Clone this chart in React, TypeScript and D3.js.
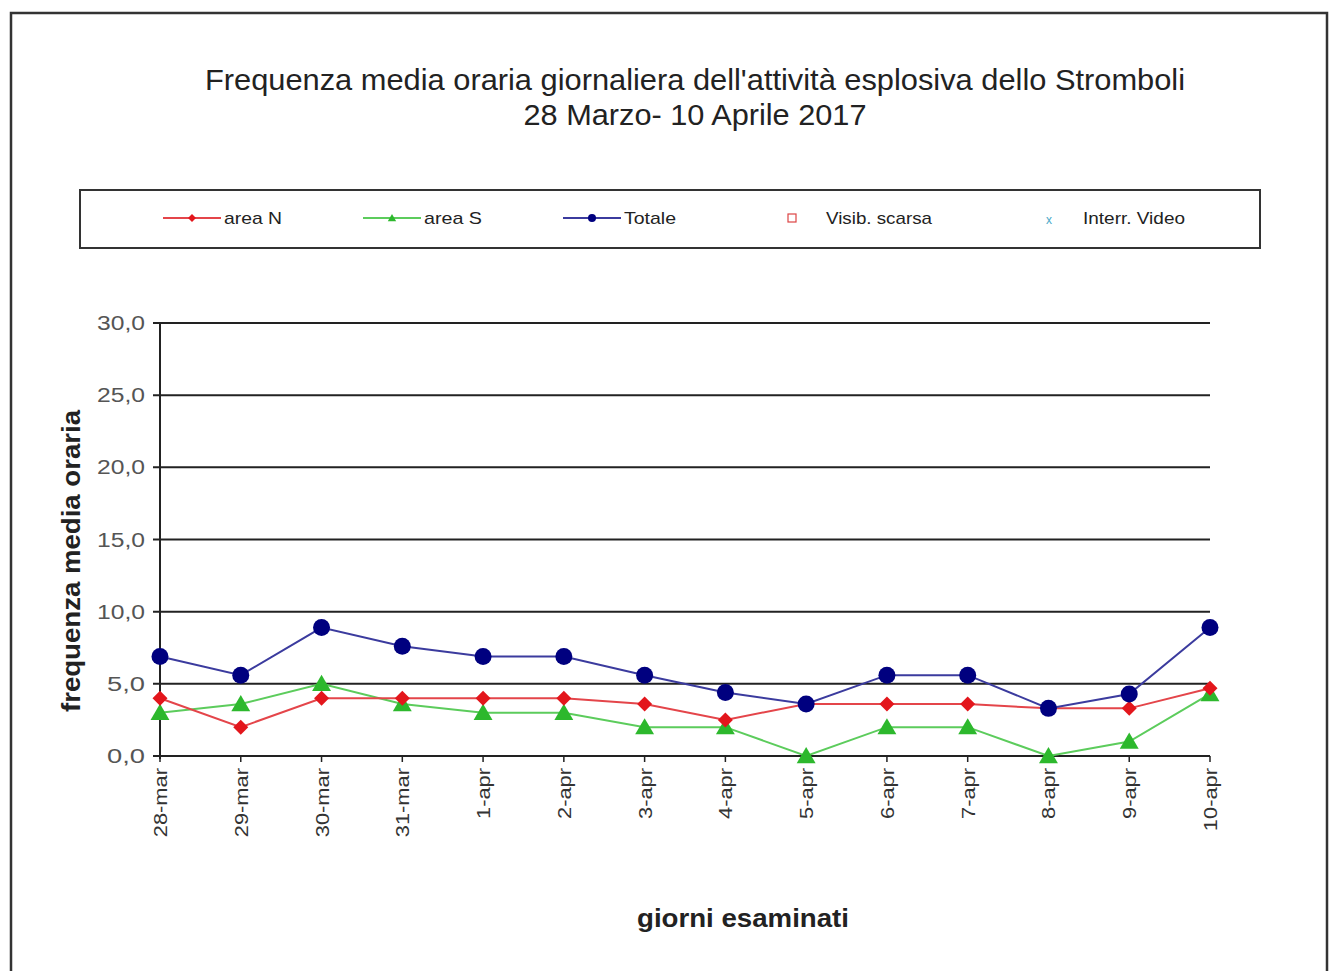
import React from "react";
import * as d3 from "d3";

const days = ["28-mar","29-mar","30-mar","31-mar","1-apr","2-apr","3-apr","4-apr","5-apr","6-apr","7-apr","8-apr","9-apr","10-apr"];
const areaN = [4.0,2.0,4.0,4.0,4.0,4.0,3.6,2.5,3.6,3.6,3.6,3.3,3.3,4.7];
const areaS = [3.0,3.6,5.0,3.6,3.0,3.0,2.0,2.0,0.0,2.0,2.0,0.0,1.0,4.3];
const totale = [6.9,5.6,8.9,7.6,6.9,6.9,5.6,4.4,3.6,5.6,5.6,3.3,4.3,8.9];
const yTicks = [0,5,10,15,20,25,30];
const legendItems = ["area N","area S","Totale","Visib. scarsa","Interr. Video"];

const W = 1330, H = 971;
const x = d3.scalePoint<string>().domain(days).range([160, 1210]);
const y = d3.scaleLinear().domain([0, 30]).range([756, 323]);
const fmt = (v: number) => v.toFixed(1).replace(".", ",");

const RED = "#e3161c", GREEN = "#2db82d", BLUE = "#00007f";
const LRED = "#e4454a", LGREEN = "#5ccc5c", LBLUE = "#3b3b9e";

function Diamond({ cx, cy, r, fill }: { cx: number; cy: number; r: number; fill: string }) {
  return <path d={`M${cx},${cy - r}L${cx + r},${cy}L${cx},${cy + r}L${cx - r},${cy}Z`} fill={fill} />;
}
function Tri({ cx, cy, r, fill }: { cx: number; cy: number; r: number; fill: string }) {
  return <path d={`M${cx},${cy - r}L${cx + r * 1.05},${cy + r * 0.8}L${cx - r * 1.05},${cy + r * 0.8}Z`} fill={fill} />;
}

export default function App() {
  const line = d3.line<number>().x((_, i) => x(days[i])!).y((d) => y(d));
  const font = "Arial, 'Liberation Sans', sans-serif";
  const legendX = [163, 363, 563];
  return (
    <svg width={W} height={H} style={{ position: "absolute", left: 0, top: 0 }} fontFamily={font}>
      <rect x={0} y={0} width={W} height={H} fill="#fff" />
      <rect x={11} y={13} width={1316} height={1000} fill="none" stroke="#333" strokeWidth={2.5} />
      <text x={695} y={90} textAnchor="middle" fontSize={29} fill="#222" textLength={980} lengthAdjust="spacingAndGlyphs">Frequenza media oraria giornaliera dell'attività esplosiva dello Stromboli</text>
      <text x={695} y={125} textAnchor="middle" fontSize={29} fill="#222" textLength={343} lengthAdjust="spacingAndGlyphs">28 Marzo- 10 Aprile 2017</text>

      <rect x={80} y={190} width={1180} height={58} fill="none" stroke="#333" strokeWidth={2} />
      {legendItems.slice(0, 3).map((name, i) => {
        const lx = legendX[i];
        const col = [LRED, LGREEN, LBLUE][i];
        const mc = [RED, GREEN, BLUE][i];
        return (
          <g key={name}>
            <line x1={lx} x2={lx + 58} y1={218} y2={218} stroke={col} strokeWidth={2} />
            {i === 0 && <Diamond cx={lx + 29} cy={218} r={4} fill={mc} />}
            {i === 1 && <Tri cx={lx + 29} cy={218} r={4} fill={mc} />}
            {i === 2 && <circle cx={lx + 29} cy={218} r={4} fill={mc} />}
            <text x={lx + 61} y={224} fontSize={17} fill="#222" textLength={name === "Totale" ? 52 : 58} lengthAdjust="spacingAndGlyphs">{name}</text>
          </g>
        );
      })}
      <rect x={788} y={214} width={8} height={8} fill="none" stroke="#d44" strokeWidth={1.2} />
      <text x={826} y={224} fontSize={17} fill="#222" textLength={106} lengthAdjust="spacingAndGlyphs">{legendItems[3]}</text>
      <text x={1049} y={224} fontSize={12} fill="#4aa8c8" textAnchor="middle">x</text>
      <text x={1083} y={224} fontSize={17} fill="#222" textLength={102} lengthAdjust="spacingAndGlyphs">{legendItems[4]}</text>

      {yTicks.map((t) => (
        <g key={t}>
          <line x1={153} x2={1210} y1={y(t)} y2={y(t)} stroke="#222" strokeWidth={2} />
          <text x={145} y={y(t) + 7} textAnchor="end" fontSize={20} fill="#555" textLength={t >= 10 ? 48 : 38} lengthAdjust="spacingAndGlyphs">{fmt(t)}</text>
        </g>
      ))}
      <line x1={160} x2={160} y1={y(30)} y2={y(0) + 3} stroke="#222" strokeWidth={2} />
      {days.map((d) => (
        <g key={d}>
          <line x1={x(d)} x2={x(d)} y1={756} y2={762} stroke="#222" strokeWidth={1.5} />
          <text transform={`translate(${x(d)! + 7},768) rotate(-90) scale(1.15,1)`} textAnchor="end" fontSize={19} fill="#333">{d}</text>
        </g>
      ))}

      <path d={line(areaS)!} fill="none" stroke={LGREEN} strokeWidth={2} />
      <path d={line(areaN)!} fill="none" stroke={LRED} strokeWidth={2} />
      <path d={line(totale)!} fill="none" stroke={LBLUE} strokeWidth={2} />
      {areaS.map((v, i) => <Tri key={"s" + i} cx={x(days[i])!} cy={y(v)} r={9} fill={GREEN} />)}
      {areaN.map((v, i) => <Diamond key={"n" + i} cx={x(days[i])!} cy={y(v)} r={7.5} fill={RED} />)}
      {totale.map((v, i) => <circle key={"t" + i} cx={x(days[i])!} cy={y(v)} r={8.5} fill={BLUE} />)}

      <text transform="translate(80,561) rotate(-90)" textAnchor="middle" fontSize={25} fontWeight="bold" fill="#222" textLength={302} lengthAdjust="spacingAndGlyphs">frequenza  media oraria</text>
      <text x={743} y={927} textAnchor="middle" fontSize={26} fontWeight="bold" fill="#222" textLength={212} lengthAdjust="spacingAndGlyphs">giorni esaminati</text>
    </svg>
  );
}
